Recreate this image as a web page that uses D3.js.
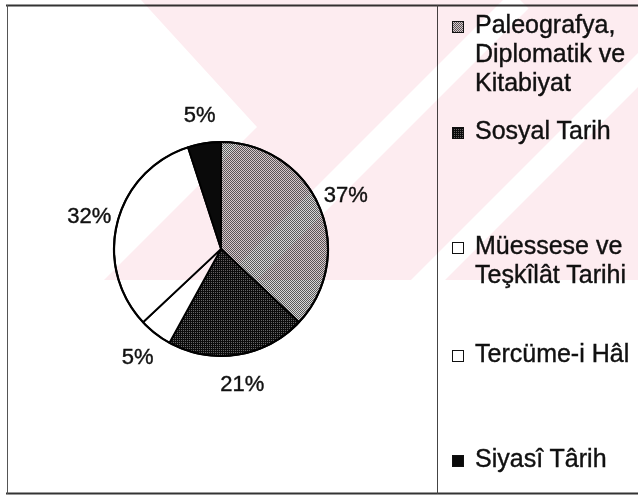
<!DOCTYPE html>
<html><head><meta charset="utf-8">
<script src="https://cdn.jsdelivr.net/npm/d3@7"></script>
<style>html,body{margin:0;padding:0;background:#fff;}svg{display:block;}</style>
</head><body>
<svg id="chart" width="638" height="501"></svg>
<script>
// ---- data ----
const categories = ["Paleografya, Diplomatik ve Kitabiyat", "Sosyal Tarih", "Müessese ve Teşkîlât Tarihi", "Tercüme-i Hâl", "Siyasî Târih"];
const legendLines = [["Paleografya,", "Diplomatik ve", "Kitabiyat"], ["Sosyal Tarih"], ["Müessese ve", "Teşkîlât Tarihi"], ["Tercüme-i Hâl"], ["Siyasî Târih"]];
const values = [37, 21, 5, 32, 5];
const valueLabels = ["37%", "21%", "5%", "32%", "5%"];

// ---- layout ----
const W = 638, H = 501;
const cx = 221, cy = 249, R = 107, labelR = 136;
const svg = d3.select("#chart");
const defs = svg.append("defs");

// fill patterns imitating the scanned hatching
function checker(id, dark, light, pattern) {
  const p = defs.append("pattern").attr("id", id).attr("patternUnits", "userSpaceOnUse")
    .attr("width", 2).attr("height", 2);
  p.append("rect").attr("width", 2).attr("height", 2).attr("fill", light);
  pattern.forEach(([x, y]) => p.append("rect").attr("x", x).attr("y", y).attr("width", 1).attr("height", 1).attr("fill", dark));
}
checker("pGray", "#5a5a5a", "#d8d8d8", [[0, 0], [1, 1]]);
checker("pDark", "#0c0c0c", "#666666", [[0, 0], [1, 1], [1, 0]]);

const fills = ["url(#pGray)", "url(#pDark)", "#ffffff", "#ffffff", "#0a0a0a"];

// ---- frame ----
const frame = svg.append("g").attr("stroke", "#333");
frame.append("line").attr("x1", 6).attr("x2", W).attr("y1", 5.5).attr("y2", 5.5).attr("stroke-width", 2);
frame.append("line").attr("x1", 6).attr("x2", W).attr("y1", 493.5).attr("y2", 493.5).attr("stroke-width", 2);
frame.append("line").attr("x1", 7.5).attr("x2", 7.5).attr("y1", 5).attr("y2", 494).attr("stroke-width", 1).attr("stroke", "#555");
frame.append("line").attr("x1", 437.5).attr("x2", 437.5).attr("y1", 5).attr("y2", 494).attr("stroke-width", 1).attr("stroke", "#444");

// ---- pie ----
const pie = d3.pie().sort(null).value(d => d).startAngle(0).endAngle(2 * Math.PI);
const arcs = pie(values);
const arc = d3.arc().innerRadius(0).outerRadius(R);
const labelArc = d3.arc().innerRadius(labelR).outerRadius(labelR);

const g = svg.append("g").attr("transform", `translate(${cx},${cy})`);
g.selectAll("path.slice").data(arcs).join("path")
  .attr("class", "slice")
  .attr("d", arc)
  .attr("fill", (d, i) => fills[i])
  .attr("stroke", "#000")
  .attr("stroke-width", 1.8)
  .attr("stroke-linejoin", "round");
g.append("circle").attr("r", R).attr("fill", "none").attr("stroke", "#000").attr("stroke-width", 2.2);

g.selectAll("text.pct").data(arcs).join("text")
  .attr("class", "pct")
  .attr("transform", d => `translate(${labelArc.centroid(d)})`)
  .attr("text-anchor", "middle")
  .attr("dominant-baseline", "central")
  .attr("font-family", "'Liberation Sans', Arial, sans-serif")
  .attr("font-size", 22)
  .attr("fill", "#111")
  .attr("stroke", "#111").attr("stroke-width", 0.4)
  .text((d, i) => valueLabels[i]);

// ---- legend ----
const legendX = 452, textX = 475, lineH = 29;
const firstBaselines = [33, 139, 254, 362, 467];
const leg = svg.append("g").attr("font-family", "'Liberation Sans', Arial, sans-serif").attr("font-size", 25)
  .attr("fill", "#111");
categories.forEach((c, i) => {
  const by = firstBaselines[i];
  leg.append("rect").attr("x", legendX + 0.5).attr("y", by - 11.5).attr("width", 11).attr("height", 11)
    .attr("fill", fills[i]).attr("stroke", "#111").attr("stroke-width", 1);
  const t = leg.append("text").attr("x", textX).attr("y", by).attr("stroke", "#111").attr("stroke-width", 0.4);
  legendLines[i].forEach((ln, j) => {
    t.append("tspan").attr("x", textX).attr("y", by + j * lineH).text(ln);
  });
});

// ---- faint watermark (scanned page background) ----
const mask = defs.append("mask").attr("id", "wmMask");
mask.append("rect").attr("width", W).attr("height", H).attr("fill", "#fff");
[[520, 24], [708, 24]].forEach(([s, w]) => {
  mask.append("line").attr("x1", s).attr("y1", 0).attr("x2", s - 400).attr("y2", 400)
    .attr("stroke", "#000").attr("stroke-width", w);
});
svg.append("path")
  .attr("d", "M141,0 L638,0 L638,280 L104,280 L257,127 Z")
  .attr("fill", "#fdecf0")
  .attr("mask", "url(#wmMask)")
  .style("mix-blend-mode", "multiply");
</script>
</body></html>
